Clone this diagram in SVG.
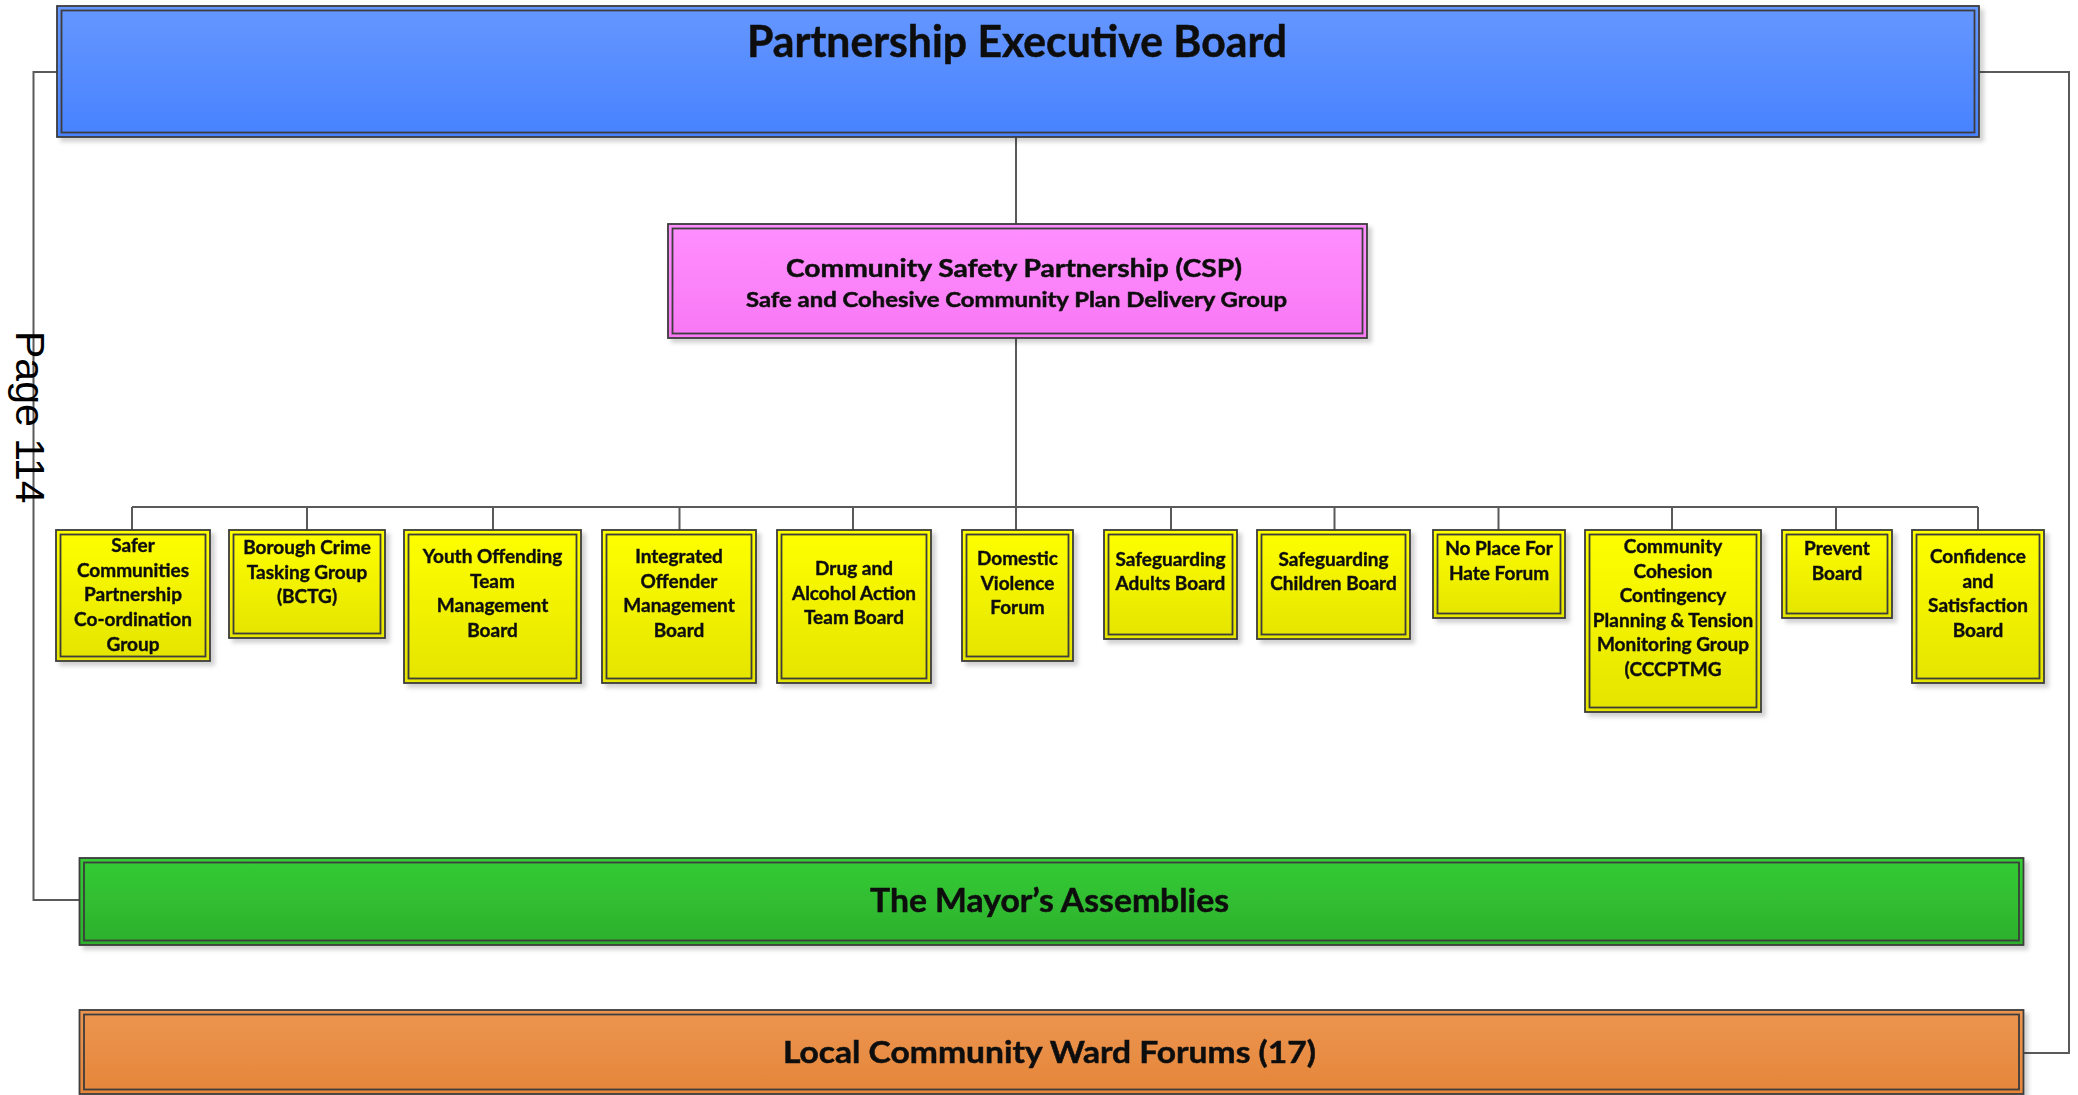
<svg xmlns="http://www.w3.org/2000/svg" width="2078" height="1095" viewBox="0 0 2078 1095">
  <style>
    .frame { stroke: #3c3c3c; stroke-width: 1.8; }
    .inner { fill: none; stroke: #3c3c3c; stroke-width: 1.8; }
    .conn { fill: none; stroke: #5a5a5a; stroke-width: 2; }
    .lbl { font-family: Lato, "Liberation Sans", sans-serif; font-weight: 700; fill: #111; stroke: #111; stroke-width: 0.5; text-anchor: middle; }
    .small { font-size: 19px; stroke-width: 0.4; }
    .page { font-family: "Liberation Sans", Arial, sans-serif; font-size: 41px; fill: #000; }
  </style>
  <defs>
    <linearGradient id="gBlue" x1="0" y1="0" x2="0" y2="1">
      <stop offset="0" stop-color="#6597ff"/>
      <stop offset="1" stop-color="#4782ff"/>
    </linearGradient>
    <linearGradient id="gPink" x1="0" y1="0" x2="0" y2="1">
      <stop offset="0" stop-color="#ff8fff"/>
      <stop offset="1" stop-color="#f878f4"/>
    </linearGradient>
    <linearGradient id="gYellow" x1="0" y1="0" x2="0" y2="1">
      <stop offset="0" stop-color="#ffff00"/>
      <stop offset="1" stop-color="#e4e400"/>
    </linearGradient>
    <linearGradient id="gGreen" x1="0" y1="0" x2="0" y2="1">
      <stop offset="0" stop-color="#34cc34"/>
      <stop offset="1" stop-color="#2daf2d"/>
    </linearGradient>
    <linearGradient id="gOrange" x1="0" y1="0" x2="0" y2="1">
      <stop offset="0" stop-color="#ec9550"/>
      <stop offset="1" stop-color="#e5863a"/>
    </linearGradient>
    <filter id="shadow" x="-5%" y="-5%" width="115%" height="125%">
      <feDropShadow dx="4" dy="4" stdDeviation="2" flood-color="#000" flood-opacity="0.18"/>
    </filter>
  </defs>

  <rect width="2078" height="1095" fill="#fff"/>

  <!-- connectors -->
  <g id="connectors" class="conn">
    <path d="M1016,137 V224"/>
    <path d="M1016,338 V530"/>
    <path d="M132,507 H1978"/>
    <path d="M132,507 V530 M307,507 V530 M493,507 V530 M679.5,507 V530 M853,507 V530 M1171,507 V530 M1334.5,507 V530 M1498.5,507 V530 M1672,507 V530 M1836,507 V530 M1978,507 V530"/>
    <path d="M57,72 H33.5 V900 H79.5"/>
    <path d="M1979,72 H2069 V1053 H2024"/>
  </g>

  <!-- page stamp -->
  <text class="page" transform="translate(16,331) rotate(90)">Page 114</text>

  <!-- top board -->
  <g id="executive-board" filter="url(#shadow)">
    <rect class="frame" x="57" y="6" width="1922" height="131" fill="url(#gBlue)"/>
    <rect class="inner" x="61.5" y="10.5" width="1913" height="122"/>
    <text class="lbl" x="1017" y="56.5" font-size="43" textLength="540" lengthAdjust="spacingAndGlyphs">Partnership Executive Board</text>
  </g>

  <!-- community safety partnership -->
  <g id="csp" filter="url(#shadow)">
    <rect class="frame" x="668" y="224" width="699" height="114" fill="url(#gPink)"/>
    <rect class="inner" x="672.5" y="228.5" width="690" height="105"/>
    <text class="lbl" x="1014" y="277" font-size="24" textLength="456" lengthAdjust="spacingAndGlyphs">Community Safety Partnership (CSP)</text>
    <text class="lbl" x="1016.5" y="306.5" font-size="20" textLength="541" lengthAdjust="spacingAndGlyphs">Safe and Cohesive Community Plan Delivery Group</text>
  </g>

  <!-- delivery groups -->
  <g id="safer-communities" filter="url(#shadow)">
    <rect class="frame" x="56" y="530" width="154" height="131" fill="url(#gYellow)"/>
    <rect class="inner" x="60.5" y="534.5" width="145" height="122"/>
    <text class="lbl small"><tspan x="133" y="551.5">Safer</tspan><tspan x="133" y="576.5">Communities</tspan><tspan x="133" y="600.5">Partnership</tspan><tspan x="133" y="625.5">Co-ordination</tspan><tspan x="133" y="650.5">Group</tspan></text>
  </g>
  <g id="bctg" filter="url(#shadow)">
    <rect class="frame" x="229" y="530" width="156" height="108" fill="url(#gYellow)"/>
    <rect class="inner" x="233.5" y="534.5" width="147" height="99"/>
    <text class="lbl small"><tspan x="307" y="554">Borough Crime</tspan><tspan x="307" y="578.5">Tasking Group</tspan><tspan x="307" y="603">(BCTG)</tspan></text>
  </g>
  <g id="youth-offending" filter="url(#shadow)">
    <rect class="frame" x="404" y="530" width="177" height="153" fill="url(#gYellow)"/>
    <rect class="inner" x="408.5" y="534.5" width="168" height="144"/>
    <text class="lbl small"><tspan x="492.5" y="563">Youth Offending</tspan><tspan x="492.5" y="587.5">Team</tspan><tspan x="492.5" y="612">Management</tspan><tspan x="492.5" y="636.5">Board</tspan></text>
  </g>
  <g id="integrated-offender" filter="url(#shadow)">
    <rect class="frame" x="602" y="530" width="154" height="153" fill="url(#gYellow)"/>
    <rect class="inner" x="606.5" y="534.5" width="145" height="144"/>
    <text class="lbl small"><tspan x="679" y="563">Integrated</tspan><tspan x="679" y="587.5">Offender</tspan><tspan x="679" y="612">Management</tspan><tspan x="679" y="636.5">Board</tspan></text>
  </g>
  <g id="drug-alcohol" filter="url(#shadow)">
    <rect class="frame" x="777" y="530" width="154" height="153" fill="url(#gYellow)"/>
    <rect class="inner" x="781.5" y="534.5" width="145" height="144"/>
    <text class="lbl small"><tspan x="854" y="575">Drug and</tspan><tspan x="854" y="599.5">Alcohol Action</tspan><tspan x="854" y="624">Team Board</tspan></text>
  </g>
  <g id="domestic-violence" filter="url(#shadow)">
    <rect class="frame" x="962" y="530" width="111" height="131" fill="url(#gYellow)"/>
    <rect class="inner" x="966.5" y="534.5" width="102" height="122"/>
    <text class="lbl small"><tspan x="1017.5" y="565">Domestic</tspan><tspan x="1017.5" y="589.5">Violence</tspan><tspan x="1017.5" y="614">Forum</tspan></text>
  </g>
  <g id="safeguarding-adults" filter="url(#shadow)">
    <rect class="frame" x="1104" y="530" width="133" height="109" fill="url(#gYellow)"/>
    <rect class="inner" x="1108.5" y="534.5" width="124" height="100"/>
    <text class="lbl small"><tspan x="1170.5" y="566">Safeguarding</tspan><tspan x="1170.5" y="590">Adults Board</tspan></text>
  </g>
  <g id="safeguarding-children" filter="url(#shadow)">
    <rect class="frame" x="1257" y="530" width="153" height="109" fill="url(#gYellow)"/>
    <rect class="inner" x="1261.5" y="534.5" width="144" height="100"/>
    <text class="lbl small"><tspan x="1333.5" y="566">Safeguarding</tspan><tspan x="1333.5" y="590">Children Board</tspan></text>
  </g>
  <g id="no-place-for-hate" filter="url(#shadow)">
    <rect class="frame" x="1433" y="530" width="132" height="88" fill="url(#gYellow)"/>
    <rect class="inner" x="1437.5" y="534.5" width="123" height="79"/>
    <text class="lbl small"><tspan x="1499" y="555">No Place For</tspan><tspan x="1499" y="579.5">Hate Forum</tspan></text>
  </g>
  <g id="community-cohesion" filter="url(#shadow)">
    <rect class="frame" x="1585" y="530" width="176" height="182" fill="url(#gYellow)"/>
    <rect class="inner" x="1589.5" y="534.5" width="167" height="173"/>
    <text class="lbl small"><tspan x="1673" y="552.5">Community</tspan><tspan x="1673" y="577.5">Cohesion</tspan><tspan x="1673" y="602">Contingency</tspan><tspan x="1673" y="626.5">Planning &amp; Tension</tspan><tspan x="1673" y="651">Monitoring Group</tspan><tspan x="1673" y="675.5">(CCCPTMG</tspan></text>
  </g>
  <g id="prevent" filter="url(#shadow)">
    <rect class="frame" x="1782" y="530" width="110" height="88" fill="url(#gYellow)"/>
    <rect class="inner" x="1786.5" y="534.5" width="101" height="79"/>
    <text class="lbl small"><tspan x="1837" y="555">Prevent</tspan><tspan x="1837" y="579.5">Board</tspan></text>
  </g>
  <g id="confidence-satisfaction" filter="url(#shadow)">
    <rect class="frame" x="1912" y="530" width="132" height="153" fill="url(#gYellow)"/>
    <rect class="inner" x="1916.5" y="534.5" width="123" height="144"/>
    <text class="lbl small"><tspan x="1978" y="563">Confidence</tspan><tspan x="1978" y="587.5">and</tspan><tspan x="1978" y="612">Satisfaction</tspan><tspan x="1978" y="636.5">Board</tspan></text>
  </g>

  <!-- assemblies and forums -->
  <g id="mayors-assemblies" filter="url(#shadow)">
    <rect class="frame" x="79.5" y="858" width="1944" height="87" fill="url(#gGreen)"/>
    <rect class="inner" x="84" y="862.5" width="1935" height="78"/>
    <text class="lbl" x="1049.5" y="911.5" font-size="32" textLength="359" lengthAdjust="spacingAndGlyphs">The Mayor’s Assemblies</text>
  </g>
  <g id="ward-forums" filter="url(#shadow)">
    <rect class="frame" x="79.5" y="1010" width="1944" height="84" fill="url(#gOrange)"/>
    <rect class="inner" x="84" y="1014.5" width="1935" height="75"/>
    <text class="lbl" x="1049.5" y="1063" font-size="31" textLength="533" lengthAdjust="spacingAndGlyphs">Local Community Ward Forums (17)</text>
  </g>
</svg>
